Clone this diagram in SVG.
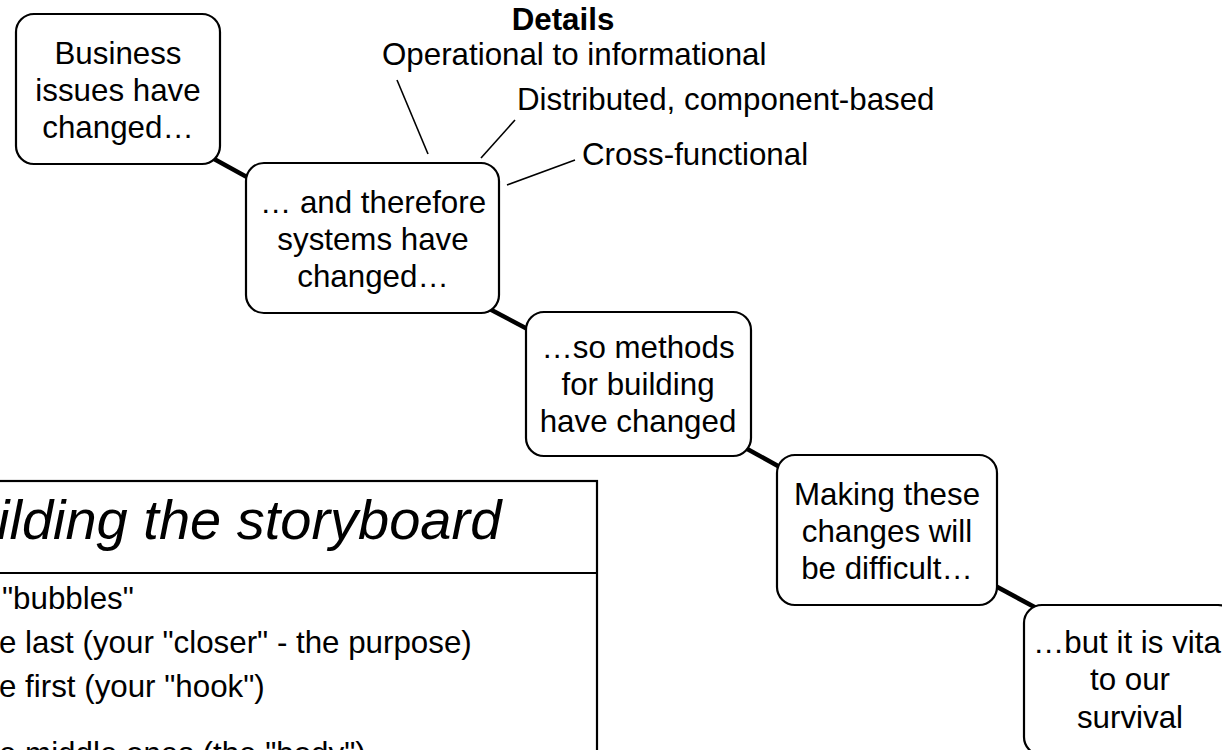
<svg xmlns="http://www.w3.org/2000/svg" width="1222" height="750" viewBox="0 0 1222 750">
<style>
.box{fill:#fff;stroke:#000;stroke-width:2.2}
.t{font-family:"Liberation Sans",Arial,sans-serif;font-size:31.3px;fill:#000}
.c{text-anchor:middle}
.conn{stroke:#000;stroke-width:4.5;stroke-linecap:butt;fill:none}
.lead{stroke:#000;stroke-width:1.6;fill:none}
</style>
<rect width="1222" height="750" fill="#fff"/>
<g id="connectors">
<line class="conn" x1="205" y1="154" x2="256" y2="182"/>
<line class="conn" x1="482" y1="305" x2="535" y2="333"/>
<line class="conn" x1="740" y1="445" x2="787" y2="471"/>
<line class="conn" x1="988" y1="582" x2="1040" y2="610"/>
</g>
<g id="details">
<text class="t c" x="563" y="30" font-weight="bold">Details</text>
<text class="t" x="382" y="65">Operational to informational</text>
<text class="t" x="517" y="110">Distributed, component-based</text>
<text class="t" x="582" y="165">Cross-functional</text>
<line class="lead" x1="397" y1="80" x2="428" y2="154"/>
<line class="lead" x1="515" y1="120" x2="481" y2="158"/>
<line class="lead" x1="575" y1="160" x2="507" y2="185"/>
</g>
<g id="n1">
<rect class="box" x="16" y="14" width="204" height="150" rx="18"/>
<text class="t c" x="118" y="64">Business</text>
<text class="t c" x="118" y="101">issues have</text>
<text class="t c" x="118" y="138">changed…</text>
</g>
<g id="n2">
<rect class="box" x="246" y="163" width="253" height="150" rx="18"/>
<text class="t c" x="373" y="213">… and therefore</text>
<text class="t c" x="373" y="250">systems have</text>
<text class="t c" x="373" y="287">changed…</text>
</g>
<g id="n3">
<rect class="box" x="526" y="312" width="225" height="144" rx="18"/>
<text class="t c" x="638" y="358">…so methods</text>
<text class="t c" x="638" y="395">for building</text>
<text class="t c" x="638" y="432">have changed</text>
</g>
<g id="n4">
<rect class="box" x="777" y="455" width="220" height="150" rx="18"/>
<text class="t c" x="887" y="505">Making these</text>
<text class="t c" x="887" y="542">changes will</text>
<text class="t c" x="887" y="579">be difficult…</text>
</g>
<g id="n5">
<rect class="box" x="1024" y="605" width="212" height="150" rx="18"/>
<text class="t" x="1033" y="653">…but it is vita</text>
<text class="t c" x="1130" y="690">to our</text>
<text class="t c" x="1130" y="728">survival</text>
</g>
<g id="storyboard">
<rect class="box" x="-20" y="481" width="617" height="320" rx="0"/>
<line x1="-20" y1="573" x2="597" y2="573" stroke="#000" stroke-width="2.2"/>
<text class="t" x="-3" y="539" font-style="italic" style="font-size:56px">ilding the storyboard</text>
<text class="t" x="2" y="609">"bubbles"</text>
<text class="t" x="-1" y="653">e last (your "closer" - the purpose)</text>
<text class="t" x="-1" y="697">e first (your "hook")</text>
<text class="t" x="-1" y="764">e middle ones (the "body")</text>
</g>
</svg>
